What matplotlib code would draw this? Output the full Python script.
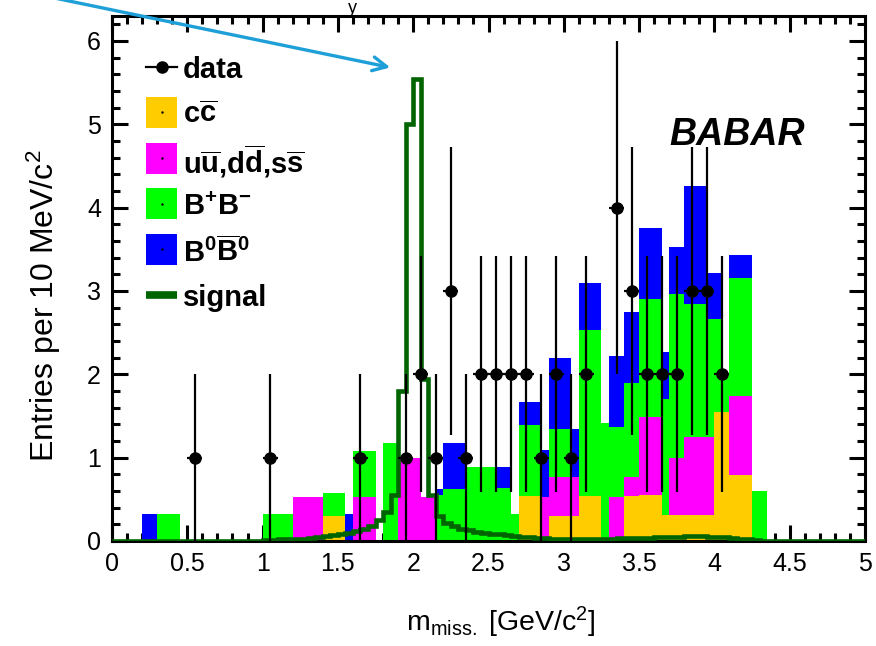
import numpy as np
import matplotlib
matplotlib.use("Agg")
import matplotlib.pyplot as plt
from matplotlib.patches import Rectangle
from matplotlib.lines import Line2D
from matplotlib.ticker import MultipleLocator

plt.rcParams['font.family'] = ['Liberation Sans', 'DejaVu Sans']
plt.rcParams['mathtext.fontset'] = 'custom'
plt.rcParams['mathtext.rm'] = 'Liberation Sans'
plt.rcParams['mathtext.bf'] = 'Liberation Sans:bold'
plt.rcParams['mathtext.it'] = 'Liberation Sans:italic'

# ---- background MC, 50 MeV bins starting at 0 -------------------------
mc_start = 0.0
mc_width = 0.05
# cumulative stack tops per bin: (c cbar, +uds, +B+B-, +B0B0bar)
stack_tops = {
    4: (0, 0, 0, 0.33), 5: (0, 0, 0, 0.33),
    6: (0, 0, 0.33, 0.33), 7: (0, 0, 0.33, 0.33), 8: (0, 0, 0.33, 0.33),
    20: (0, 0, 0.33, 0.33), 21: (0, 0, 0.33, 0.33), 22: (0, 0, 0.33, 0.33), 23: (0, 0, 0.33, 0.33),
    24: (0, 0.53, 0.53, 0.53), 25: (0, 0.53, 0.53, 0.53), 26: (0, 0.53, 0.53, 0.53), 27: (0, 0.53, 0.53, 0.53),
    28: (0.3, 0.3, 0.58, 0.58), 29: (0.3, 0.3, 0.58, 0.58), 30: (0.3, 0.3, 0.58, 0.58),
    31: (0, 0, 0, 0.33),
    32: (0, 0.53, 1.08, 1.08), 33: (0, 0.53, 1.08, 1.08), 34: (0, 0.53, 1.08, 1.08),
    36: (0, 0, 1.18, 1.18), 37: (0, 0, 1.18, 1.18),
    38: (0, 1.0, 1.0, 1.0), 39: (0, 1.0, 1.0, 1.0), 40: (0, 1.0, 1.0, 1.0),
    41: (0, 0.53, 0.53, 0.53), 42: (0, 0.53, 0.53, 0.53),
    43: (0, 0, 0.55, 0.62),
    44: (0, 0, 0.62, 1.18), 45: (0, 0, 0.62, 1.18), 46: (0, 0, 0.62, 1.18),
    47: (0, 0, 0.89, 0.89), 48: (0, 0, 0.89, 0.89), 49: (0, 0, 0.89, 0.89), 50: (0, 0, 0.89, 0.89),
    51: (0, 0, 0.64, 0.89), 52: (0, 0, 0.64, 0.89),
    53: (0, 0, 0.33, 0.33),
    54: (0.54, 0.54, 1.39, 1.67), 55: (0.54, 0.54, 1.39, 1.67), 56: (0.54, 0.54, 1.39, 1.67),
    57: (0, 0.53, 0.53, 1.09),
    58: (0.3, 0.77, 1.34, 2.2), 59: (0.3, 0.77, 1.34, 2.2), 60: (0.3, 0.77, 1.34, 2.2),
    61: (0.3, 0.77, 0.77, 1.34),
    62: (0.54, 0.54, 2.53, 3.1), 63: (0.54, 0.54, 2.53, 3.1), 64: (0.54, 0.54, 2.53, 3.1),
    65: (0, 0, 1.42, 1.42),
    66: (0, 0.53, 1.37, 2.22), 67: (0, 0.53, 1.37, 2.22),
    68: (0.54, 0.77, 1.9, 2.75), 69: (0.54, 0.77, 1.9, 2.75),
    70: (0.55, 1.49, 2.9, 3.76), 71: (0.55, 1.49, 2.9, 3.76), 72: (0.55, 1.49, 2.9, 3.76),
    73: (0.31, 0.31, 1.71, 2.27),
    74: (0.31, 1.0, 2.97, 3.53), 75: (0.31, 1.0, 2.97, 3.53),
    76: (0.31, 1.25, 2.85, 4.26), 77: (0.31, 1.25, 2.85, 4.26), 78: (0.31, 1.25, 2.85, 4.26),
    79: (0.31, 1.25, 2.66, 3.22),
    80: (1.55, 1.55, 2.66, 3.22),
    81: (1.55, 1.55, 2.01, 2.01),
    82: (0.79, 1.74, 3.16, 3.43), 83: (0.79, 1.74, 3.16, 3.43), 84: (0.79, 1.74, 3.16, 3.43),
    85: (0, 0, 0.6, 0.6), 86: (0, 0, 0.6, 0.6),
}
n_mc = 88
ccbar = np.zeros(n_mc); uds = np.zeros(n_mc); bpbm = np.zeros(n_mc); b0b0 = np.zeros(n_mc)
for i, (o, m, g, b) in stack_tops.items():
    ccbar[i] = o
    uds[i] = m - o
    bpbm[i] = g - m
    b0b0[i] = b - g

# ---- signal shape, 50 MeV bins ------------------------------------------
sig_start = 0.0
sig_width = 0.05
signal = np.array(
    [0.0] * 20 +
    [0.01, 0.01, 0.02, 0.02, 0.03, 0.03, 0.04, 0.05, 0.06, 0.07,      # 1.00-1.45
     0.08, 0.10, 0.12, 0.15, 0.18, 0.25, 0.35, 0.55, 1.80, 5.00,      # 1.50-1.95
     5.55, 1.95, 0.55, 0.30, 0.22, 0.18, 0.15, 0.13, 0.11, 0.10,      # 2.00-2.45
     0.09, 0.08, 0.07, 0.06, 0.05, 0.05, 0.04, 0.04, 0.03, 0.03,      # 2.50-2.95
     0.03, 0.03, 0.03, 0.03, 0.03, 0.03, 0.03, 0.04, 0.04, 0.04,      # 3.00-3.45
     0.04, 0.04, 0.05, 0.05, 0.05, 0.05, 0.06, 0.06, 0.06, 0.05,      # 3.50-3.95
     0.05, 0.05, 0.04, 0.03, 0.02, 0.01, 0.0, 0.0, 0.0, 0.0]          # 4.00-4.45
    + [0.0] * 10)

# ---- data ----------------------------------------------------------------
data_x = [0.55, 1.05, 1.65, 1.95, 2.05, 2.15, 2.25, 2.35, 2.45, 2.55, 2.65, 2.75,
          2.85, 2.95, 3.05, 3.15, 3.35, 3.45, 3.55, 3.65, 3.75, 3.85, 3.95, 4.05]
data_n = [1, 1, 1, 1, 2, 1, 3, 1, 2, 2, 2, 2,
          1, 2, 1, 2, 4, 3, 2, 2, 2, 3, 3, 2]
data_halfwidth = 0.05

x_ticks = [0, 0.5, 1, 1.5, 2, 2.5, 3, 3.5, 4, 4.5, 5]
x_ticklabels = ['0', '0.5', '1', '1.5', '2', '2.5', '3', '3.5', '4', '4.5', '5']
y_ticks = [0, 1, 2, 3, 4, 5, 6]

legend_labels = ['data',
                 r'$\mathbf{c\overline{c}}$',
                 r'$\mathbf{u\overline{u}{,}d\overline{d}{,}s\overline{s}}$',
                 r'$\mathbf{B^{+}B^{-}}$',
                 r'$\mathbf{B^{0}\overline{B}^{0}}$',
                 'signal']

col_cc = '#FFCC00'
col_uds = '#FF00FF'
col_bpbm = '#00FF00'
col_b0 = '#0000FF'
col_sig = '#006400'

W, H = 876, 646
fig = plt.figure(figsize=(W / 100, H / 100), dpi=100)
ax = fig.add_axes([112 / W, (H - 541) / H, 753 / W, 525 / H])

mc_edges = mc_start + mc_width * np.arange(n_mc + 1)
levels = [ccbar, ccbar + uds, ccbar + uds + bpbm, ccbar + uds + bpbm + b0b0]
colors = [col_cc, col_uds, col_bpbm, col_b0]
for lev, col in list(zip(levels, colors))[::-1]:
    ax.stairs(lev, mc_edges, fill=True, color=col, lw=0, zorder=2)

sig_edges = sig_start + sig_width * np.arange(len(signal) + 1)
ax.stairs(signal, sig_edges, color=col_sig, lw=3.3, baseline=None, zorder=3)

dn = np.array(data_n, dtype=float)
ax.errorbar(data_x, dn, yerr=np.sqrt(dn), xerr=data_halfwidth, fmt='o', color='k',
            ms=8, elinewidth=1.6, capsize=0, zorder=5)

ax.set_xlim(0, 5)
ax.set_ylim(0, 6.3)
ax.set_xticks(x_ticks)
ax.set_xticklabels(x_ticklabels)
ax.set_yticks(y_ticks)
ax.xaxis.set_minor_locator(MultipleLocator(0.1))
ax.yaxis.set_minor_locator(MultipleLocator(0.2))
ax.tick_params(which='both', direction='in', top=True, right=True, width=2.2,
               labelsize=18, pad=8)
ax.tick_params(which='major', length=11.5)
ax.tick_params(which='minor', length=5.8)
for sp in ax.spines.values():
    sp.set_linewidth(2.2)

ax.set_xlabel(r'm$_{\mathrm{miss.}}$ [GeV/c$^{2}$]', fontsize=20.5, va='center')
ax.xaxis.set_label_coords((501 - 112) / 753, (541 - 622) / 525)
ax.set_ylabel(r'Entries per 10 MeV/c$^{2}$', fontsize=23, va='center')
ax.yaxis.set_label_coords((44 - 112) / 753, (541 - 306) / 525)

# legend, laid out row by row in figure pixels measured from the top
def fig_xy(px, py):
    return px / W, 1 - py / H

row_y = [67, 112, 158, 204, 249, 295]
box_l, box_r, box_h = 146, 177, 31
for k, (lab, py) in enumerate(zip(legend_labels, row_y)):
    xl, yc = fig_xy(box_l, py)
    xr, _ = fig_xy(box_r, py)
    if k == 0:
        fig.add_artist(Line2D([xl, xr], [yc, yc], color='k', lw=1.6))
        fig.add_artist(Line2D([(xl + xr) / 2], [yc], color='k', marker='o', ms=8, lw=0))
    elif k == 5:
        fig.add_artist(Line2D([xl, xr], [yc, yc], color=col_sig, lw=5.5,
                              solid_capstyle='butt'))
    else:
        hh = box_h / H
        fig.add_artist(Rectangle((xl, yc - hh / 2), xr - xl, hh, facecolor=colors[k - 1],
                                 lw=0, transform=fig.transFigure))
        fig.add_artist(Line2D([(xl + xr) / 2], [yc], color='k', marker='.', ms=1.5, lw=0))
    tx, _ = fig_xy(183, py)
    fig.text(tx, yc, lab, fontsize=21, fontweight='bold', ha='left', va='center_baseline')

ax.text((737 - 112) / 753, (541 - 135) / 525, 'BABAR', transform=ax.transAxes,
        fontsize=27, fontweight='bold', fontstyle='italic', ha='center', va='center')

ax.annotate('', xy=(393, H - 68), xycoords='figure pixels',
            xytext=(40, H + 5), textcoords='figure pixels',
            arrowprops=dict(arrowstyle='->,head_length=1.0,head_width=0.5',
                            color='#1E9FD8', lw=2.4))
fig.text(352 / W, 1.0, 'y', fontsize=13, ha='center', va='top')

fig.savefig('out.png', dpi=100)
